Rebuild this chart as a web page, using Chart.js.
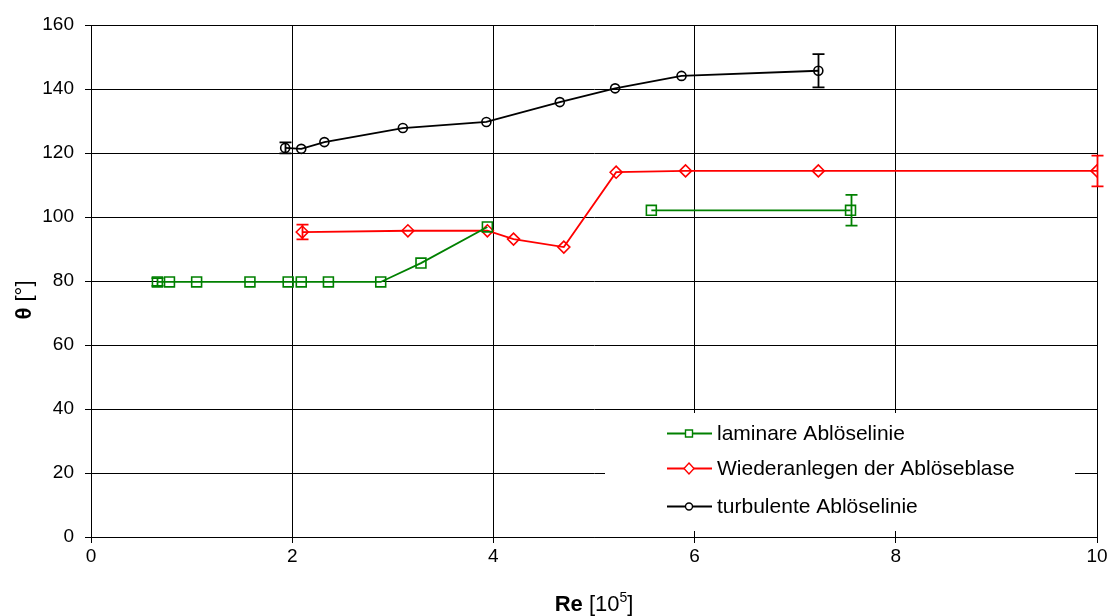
<!DOCTYPE html>
<html>
<head>
<meta charset="utf-8">
<script src="https://cdn.jsdelivr.net/npm/chart.js@4.4.1/dist/chart.umd.min.js"></script>
<style>
html,body{margin:0;padding:0;background:#fff;}
#wrap{width:1111px;height:616px;position:relative;}
</style>
</head>
<body>
<div id="wrap"><canvas id="c" width="1111" height="616"></canvas></div>
<script>
// ---- data (Re in 10^5, theta in degrees) ----
const lamRe   = [0.66, 0.78, 1.05, 1.58, 1.96, 2.09, 2.36, 2.88, 3.28, 3.94, 4.75, 5.57, 7.55];
const lamTh   = [79.7, 79.7, 79.7, 79.7, 79.7, 79.7, 79.7, 79.7, 85.6, 96.9, null, 102.1, 102.1];
const lamErr  = [1.2, 0, 0, 0, 0, 0, 0, 0, 0, 0, 0, 0, 4.8];

const wiedRe  = [2.10, 3.15, 3.94, 4.20, 4.70, 5.22, 5.91, 7.23, 10.0];
const wiedTh  = [95.3, 95.7, 95.7, 93.1, 90.6, 114.0, 114.4, 114.4, 114.4];
const wiedErr = [2.3, 0, 0, 0, 0, 0, 0, 0, 4.8];

const turbRe  = [1.93, 2.09, 2.32, 3.10, 3.93, 4.66, 5.21, 5.87, 7.23];
const turbTh  = [121.6, 121.3, 123.4, 127.8, 129.7, 135.9, 140.2, 144.1, 145.7];
const turbErr = [1.7, 0, 0, 0, 0, 0, 0, 0, 5.2];

const seriesNames = ['laminare Ablöselinie', 'Wiederanlegen der Ablöseblase', 'turbulente Ablöselinie'];
const xTicks = [0, 2, 4, 6, 8, 10];
const yTicks = [0, 20, 40, 60, 80, 100, 120, 140, 160];

const FONT = '"Liberation Sans", Arial, sans-serif';

function pts(xs, ys, es) {
  return xs.map((x, i) => ({x: x, y: ys[i], err: es[i]}));
}

const errorBars = {
  id: 'errorBars',
  afterDatasetsDraw(chart) {
    const ctx = chart.ctx;
    const xs = chart.scales.x, ys = chart.scales.y;
    chart.data.datasets.forEach(ds => {
      ctx.save();
      ctx.strokeStyle = ds.borderColor;
      ctx.lineWidth = 1.8;
      ds.data.forEach(p => {
        if (p.y == null || !p.err) return;
        const px = Math.round(xs.getPixelForValue(p.x)) + 0.5;
        const top = ys.getPixelForValue(p.y + p.err);
        const bot = ys.getPixelForValue(p.y - p.err);
        ctx.beginPath();
        ctx.moveTo(px, top); ctx.lineTo(px, bot);
        ctx.moveTo(px - 6, top); ctx.lineTo(px + 6, top);
        ctx.moveTo(px - 6, bot); ctx.lineTo(px + 6, bot);
        ctx.stroke();
      });
      ctx.restore();
    });
  }
};

const customText = {
  id: 'customText',
  afterDraw(chart) {
    const ctx = chart.ctx;
    // legend box
    ctx.save();
    ctx.fillStyle = '#fff';
    ctx.fillRect(605, 413, 470, 118);
    const rows = [433, 468, 506];
    chart.data.datasets.forEach((ds, i) => {
      const y = rows[i];
      ctx.strokeStyle = ds.borderColor;
      ctx.lineWidth = 1.8;
      ctx.beginPath(); ctx.moveTo(667, y + 0.5); ctx.lineTo(712, y + 0.5); ctx.stroke();
      ctx.lineWidth = 1.4;
      ctx.fillStyle = '#fff';
      ctx.beginPath();
      if (ds.pointStyle === 'rect') {
        ctx.rect(685.5, y - 3, 7, 7);
      } else if (ds.pointStyle === 'rectRot') {
        ctx.moveTo(689, y - 5); ctx.lineTo(694, y + 0.5); ctx.lineTo(689, y + 6); ctx.lineTo(684, y + 0.5); ctx.closePath();
      } else {
        ctx.arc(689, y + 0.5, 3.5, 0, Math.PI * 2);
      }
      ctx.fill(); ctx.stroke();
      ctx.fillStyle = '#000';
      ctx.font = '21px ' + FONT;
      ctx.textAlign = 'left';
      ctx.textBaseline = 'middle';
      ctx.fillText(seriesNames[i], 717, y + 1);
    });
    // x-axis title: Re [10^5]
    ctx.fillStyle = '#000';
    ctx.textBaseline = 'alphabetic';
    ctx.textAlign = 'left';
    const parts = [
      {t: 'Re', f: 'bold 22px ' + FONT, dy: 0},
      {t: ' [10', f: '22px ' + FONT, dy: 0},
      {t: '5', f: '14px ' + FONT, dy: -9},
      {t: ']', f: '22px ' + FONT, dy: 0}
    ];
    let w = 0;
    parts.forEach(p => { ctx.font = p.f; w += ctx.measureText(p.t).width; });
    let x = 594 - w / 2;
    const base = 611;
    parts.forEach(p => { ctx.font = p.f; ctx.fillText(p.t, x, base + p.dy); x += ctx.measureText(p.t).width; });
    // y-axis title: θ [°]
    ctx.save();
    ctx.translate(31, 300);
    ctx.rotate(-Math.PI / 2);
    const yp = [
      {t: 'θ', f: 'bold 22px ' + FONT},
      {t: ' [°]', f: '22px ' + FONT}
    ];
    w = 0;
    yp.forEach(p => { ctx.font = p.f; w += ctx.measureText(p.t).width; });
    x = -w / 2;
    yp.forEach(p => { ctx.font = p.f; ctx.fillText(p.t, x, 0); x += ctx.measureText(p.t).width; });
    ctx.restore();
    ctx.restore();
  }
};

new Chart(document.getElementById('c'), {
  type: 'line',
  data: {
    datasets: [
      {
        label: seriesNames[0],
        data: pts(lamRe, lamTh, lamErr),
        borderColor: '#008000', backgroundColor: 'rgba(0,0,0,0)',
        borderWidth: 1.8, pointStyle: 'rect', pointRadius: 7,
        pointBorderWidth: 1.6, pointBackgroundColor: 'rgba(0,0,0,0)',
        spanGaps: false, tension: 0
      },
      {
        label: seriesNames[1],
        data: pts(wiedRe, wiedTh, wiedErr),
        borderColor: '#ff0000', backgroundColor: 'rgba(0,0,0,0)',
        borderWidth: 1.8, pointStyle: 'rectRot', pointRadius: 6,
        pointBorderWidth: 1.6, pointBackgroundColor: 'rgba(0,0,0,0)',
        tension: 0
      },
      {
        label: seriesNames[2],
        data: pts(turbRe, turbTh, turbErr),
        borderColor: '#000000', backgroundColor: 'rgba(0,0,0,0)',
        borderWidth: 1.8, pointStyle: 'circle', pointRadius: 4.5,
        pointBorderWidth: 1.6, pointBackgroundColor: 'rgba(0,0,0,0)',
        tension: 0
      }
    ]
  },
  options: {
    responsive: false,
    animation: false,
    layout: {padding: {left: 0, right: 14, top: 25, bottom: 0}},
    plugins: {legend: {display: false}, tooltip: {enabled: false}},
    scales: {
      x: {
        type: 'linear', min: 0, max: 10,
        afterBuildTicks(s) { s.ticks = xTicks.map(v => ({value: v})); },
        afterFit(s) { s.height = 79; },
        grid: {color: '#000', lineWidth: 1, tickLength: 6, drawTicks: true},
        border: {color: '#000', width: 1},
        ticks: {color: '#000', font: {family: FONT, size: 19}, padding: 2, maxRotation: 0}
      },
      y: {
        type: 'linear', min: 0, max: 160,
        afterBuildTicks(s) { s.ticks = yTicks.map(v => ({value: v})); },
        afterFit(s) { s.width = 91; },
        grid: {color: '#000', lineWidth: 1, tickLength: 6, drawTicks: true},
        border: {color: '#000', width: 1},
        ticks: {color: '#000', font: {family: FONT, size: 19}, padding: 11}
      }
    }
  },
  plugins: [errorBars, customText]
});
</script>
</body>
</html>
